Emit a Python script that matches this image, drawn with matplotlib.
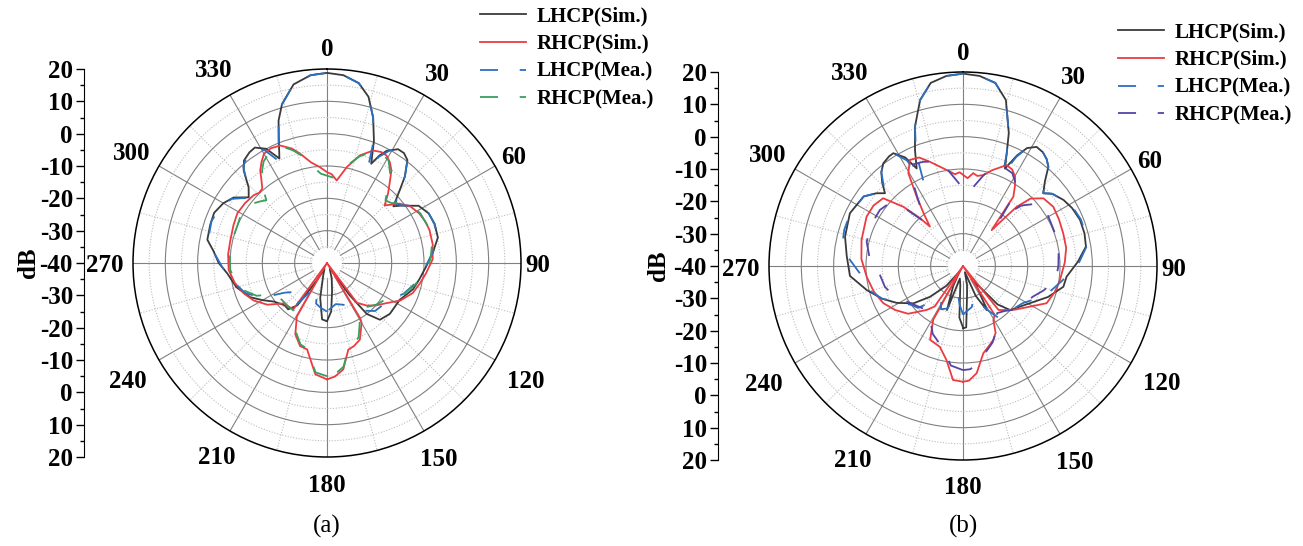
import numpy as np
import matplotlib
matplotlib.use("Agg")
import matplotlib.pyplot as plt
from matplotlib.ticker import FixedLocator

W, H = 1303, 546

# (angle in degrees, gain in dB)
a_lhcp_sim = [(-180, -22), (-175, -22.5), (-169, -29), (-163, -36), (-157, -38), (-150, -34), (-145, -24),
              (-140, -21.3), (-135, -21.5), (-126, -19.7), (-120, -17), (-114, -14), (-105, -11), (-96, -9),
              (-90, -6.5), (-84, -4.7), (-79, -2.3), (-72, -2.0), (-66, -1.8), (-60, -3), (-55, -4.7),
              (-50, -8.4), (-46, -6.3), (-42, -1.5), (-39, 0.8), (-35, 1.8), (-32, 2.1), (-28, 0),
              (-24.5, -4.5), (-21.5, 0.6), (-18.8, 6.5), (-15.8, 11.1), (-10.6, 16.2), (-5, 18.3), (0, 18.8),
              (5, 18.3), (10, 16.5), (14, 13), (17.6, 7.2), (21, 0.5), (24, -6.4), (26, -3), (28, -0.7),
              (32, 1.5), (35, 1.5), (38, 0.4), (42, -4), (45, -8.2), (49.5, -13), (52, -11.2), (58, -6.6),
              (64, -5), (70, -4.6), (77, -4.8), (84, -7), (92, -9.3), (100, -11), (107, -12.2), (117, -14.8),
              (129, -15), (137, -16), (142, -20), (145, -28), (148, -37), (155, -38), (163, -35), (170, -31),
              (175, -25), (180, -22)]
a_rhcp_sim = [(-180, -4), (-174, -5.4), (-167, -12.6), (-162, -13), (-156, -15.9), (-150.6, -21), (-147, -40),
              (-144, -22.3), (-138, -22), (-133, -21.7), (-125, -17.5), (-117, -14.5), (-110, -12.6),
              (-102, -10.8), (-94, -9.5), (-85, -9.3), (-77, -9.3), (-68, -8.8), (-61, -8.3), (-54, -8.6),
              (-47.3, -9.1), (-44, -9.8), (-41, -9.5), (-38, -7), (-35.8, -4.7), (-33, -2.8), (-30, -1),
              (-26, -0.5), (-21.7, -0.9), (-17, -3), (-13.8, -5.2), (-9, -8.5), (-4.2, -10.3), (0, -11.9),
              (3, -12.5), (6.7, -14.3), (11.7, -9.7), (17, -5.2), (22.3, -2.4), (26, -1.8), (29, -2),
              (32, -3.3), (34.8, -5.1), (38, -8.5), (41.3, -11.4), (45, -14.8), (48, -13), (50.7, -11),
              (56, -8.8), (61.9, -7.6), (67, -7), (72.2, -6.7), (80, -6.8), (88, -7.3), (95.9, -9.2),
              (102, -10.5), (109.3, -11.9), (117, -14.5), (124, -17.8), (131, -20), (137, -22), (143, -24.6),
              (146, -40), (149, -20), (150, -18.6), (156.8, -14.2), (162, -13), (166.2, -12.4), (171.3, -6.7),
              (176, -4.8), (180, -4)]
a_lhcp_mea = [(-180, -25), (-172, -26), (-165, -27), (-158, -32), (-150, -30), (-143, -22.6), (-136, -24),
              (-130, -26), (-125, -24), (-118, -17), (-110, -13), (-100, -10), (-92, -7.5), (-85, -5),
              (-78, -2.5), (-70, -2), (-62, -2.8), (-56, -4.5), (-51, -8), (-46, -6), (-41, -0.5), (-37, 1.2),
              (-33, 2), (-29, 0), (-25, -5.5), (-22, 0), (-18.8, 6.5), (-15.8, 11), (-10.6, 16.2), (-5, 18.3),
              (0, 18.8), (5, 18.3), (10, 16.5), (14, 13), (17.6, 7.2), (21, 0), (23.5, -8.5), (26, -3.5),
              (29, -0.3), (32, 1.5), (35, 1.5), (38, 0.4), (42, -4), (45, -8.2), (49, -12), (52, -11),
              (58, -6.6), (64, -5), (70, -4.6), (77, -4.8), (84, -7), (92, -9.5), (103, -12), (112, -14.5),
              (120, -17.5), (128, -18.5), (135, -19), (141, -21), (146, -23.4), (152, -25), (160, -26.3),
              (168, -27), (175, -26), (180, -25)]
a_rhcp_mea = [(-180, -5), (-174, -6), (-167, -12.8), (-162, -13.5), (-156, -16.5), (-150, -20.5), (-145, -22),
              (-138, -22), (-130, -22), (-121, -21.5), (-115, -16), (-108, -12.8), (-100, -11), (-94, -10),
              (-85, -9.8), (-77, -9.8), (-68, -10), (-61, -9.5), (-54, -9.5), (-47, -12), (-44, -13), (-41, -10),
              (-38, -7.5), (-35, -5), (-32, -3), (-29, -2), (-25, -1.5), (-21, -1.5), (-17, -3.5), (-13, -6),
              (-8, -10), (-4, -12.3), (0, -13), (4, -13.5), (8, -12), (12, -9), (17, -5.5), (22, -3),
              (27, -2.3), (31, -3), (35, -6), (39, -10), (43, -13.5), (47, -12.8), (51, -10.5), (56, -8.5),
              (62, -7.3), (70, -6.8), (80, -7), (88, -8), (96, -9.8), (104, -12), (115, -15), (122.5, -18.8),
              (130, -20), (137, -21.5), (143, -23), (148, -21), (152, -18.5), (157, -15), (162, -13.5),
              (166, -12.6), (171, -7.5), (176, -5.5), (180, -5)]

b_lhcp_sim = [(-180, -21), (-176, -24), (-172, -34), (-166, -36), (-160, -25.5), (-154, -33), (-148, -38),
              (-140, -32), (-133, -26), (-127, -20.8), (-119, -16.5), (-112, -13), (-104, -9.3), (-95, -4.9),
              (-85, -3.9), (-76, -2.4), (-65, -1.4), (-55, -2.5), (-50, -5), (-47, -7), (-44, -4), (-41, -1.5),
              (-37.8, 0.2), (-34, 0.9), (-31.7, 1), (-28, -2), (-25.4, -6.6), (-22.5, -1.2), (-19, 5.6),
              (-14.5, 13), (-10, 17.5), (-5, 19), (0, 19.5), (5, 19), (10, 17.5), (14.5, 13), (19, 3.5),
              (21.2, -2.6), (23.3, -7.2), (26, -2), (28.5, 1.5), (31.7, 3.3), (35, 3), (38, 2), (40.7, 0.5),
              (44, -3.5), (47.8, -6.5), (51, -4.5), (56.7, -2.8), (62, -1.8), (68.5, -1.1), (75, -1.1),
              (81, -1.5), (88, -4.5), (95.9, -7.8), (101.7, -8.3), (110, -12), (119, -16.3), (126, -18.5),
              (133, -20), (138, -24), (144, -34), (148, -30), (151.7, -24.5), (157, -30), (163, -38),
              (168, -34), (172, -31), (177, -21), (180, -20.7)]
b_rhcp_sim = [(-180, -4.2), (-175, -4.6), (-170, -10.5), (-164, -14), (-156, -15), (-151, -21), (-148, -40),
              (-145, -24.7), (-140.5, -22.4), (-131, -17.5), (-123, -15), (-115, -12.8), (-106, -11.3),
              (-96.3, -10), (-86, -8.5), (-75.6, -7.6), (-62.9, -6.5), (-56, -6.6), (-49.7, -7.6),
              (-45.2, -14), (-42, -20), (-40, -24.1), (-37, -20), (-33.7, -14.2), (-30.5, -6.7), (-26.6, -3.3),
              (-22, -3.8), (-17.6, -6.2), (-13, -8.5), (-9.6, -9.9), (-5, -11.5), (-2, -11), (0, -11.8),
              (3, -12.8), (6.3, -11.1), (9, -11.8), (12.6, -11.2), (17, -9), (23.4, -6), (27, -6.5),
              (30.2, -8), (33, -10.5), (36, -13.5), (38.6, -25.8), (41, -20), (42.2, -15.3), (45, -10.5),
              (49.9, -7.5), (56.7, -6.6), (64, -7), (72, -7.4), (80, -7.6), (88, -8.5), (98.2, -9.7),
              (106, -10.5), (114, -11.7), (121.3, -15.8), (130, -19), (137.5, -21.5), (141, -22.5), (144, -40),
              (147, -22), (150.7, -20.8), (154, -17), (157.7, -15.3), (162, -14), (166.9, -12.3),
              (172.7, -6.6), (177, -4.5), (180, -4.2)]
b_lhcp_mea = [(-180, -25), (-175, -28), (-168, -32), (-160, -26), (-153, -25), (-146, -28), (-140, -26),
              (-133, -21), (-127, -20), (-119, -17), (-112, -13), (-104, -9.8), (-94, -8), (-85, -4), (-78, -2),
              (-73, -1.6), (-65, -1.5), (-55, -2.5), (-50, -5), (-47, -7.5), (-44, -4.5), (-41, -1.5),
              (-37.8, 0), (-34, 0.8), (-31.7, 1), (-28, -3), (-25, -11), (-22.5, -2), (-19, 5.6), (-14.5, 13),
              (-10, 17.5), (-5, 19), (0, 19.5), (5, 19), (10, 17.5), (14.5, 13), (19, 3.5), (21.2, -2.6),
              (23.5, -9), (26, -2.5), (28.5, 1.5), (31.7, 3.3), (35, 3), (38, 2), (40.7, 0.5), (44, -3.5),
              (47.8, -6.5), (51, -4.5), (56.7, -2.8), (62, -1.5), (68.5, -0.8), (75, -0.8), (81, -1.3),
              (88, -4), (98, -8.8), (110, -13), (121.7, -18.2), (130, -19.5), (137, -20), (145, -20),
              (152, -25), (160, -30), (168, -27), (175, -26), (180, -25)]
b_rhcp_mea = [(-180, -7.8), (-173, -9), (-167, -13.5), (-163, -15), (-156, -17), (-150, -20), (-144, -22.5),
              (-137, -22), (-130, -21), (-123, -19.6), (-115, -17), (-105, -15), (-95, -14), (-85, -11),
              (-76, -9.3), (-66, -8.8), (-56, -9), (-50, -10), (-45, -15), (-41, -22), (-38, -20), (-34, -15),
              (-30, -8), (-26, -5), (-21, -5.5), (-15, -6.5), (-10, -9), (-5, -13), (0, -16), (4, -17.5),
              (8, -15), (13, -11), (18, -8), (23, -7), (28, -7.5), (32, -9.5), (36, -14), (38.6, -22),
              (41, -18), (44, -14), (50, -10), (55, -9), (60, -9.5), (70, -9.8), (80.5, -10), (90, -10.5),
              (98.6, -11), (107, -14), (114, -16.5), (121.5, -17.5), (130, -19), (137, -21), (144, -22),
              (150, -20), (155, -16.5), (159, -14.6), (165, -12.5), (171, -9.5), (176, -8), (180, -7.8)]

labels = ["LHCP(Sim.)", "RHCP(Sim.)", "LHCP(Mea.)", "RHCP(Mea.)"]
angle_ticks = list(range(0, 360, 30))
db_ticks = list(range(-60, 61, 10))

# gap (px) between the rim and the centre of each angle label
label_gap = {0: 22, 30: 27, 60: 22, 90: 17, 120: 36, 150: 29, 180: 25,
             210: 27, 240: 36, 270: 28, 300: 32, 330: 32}

plt.rcParams["font.family"] = ["Liberation Serif", "DejaVu Serif"]
plt.rcParams["font.weight"] = "bold"

fig = plt.figure(figsize=(W / 100, H / 100), dpi=100)
dash = (0, (10, 12))
px = 0.72  # points per pixel at dpi 100


def panel(cx, cy, R, curves, colors, axis_x, dblabel_x, legend_xy, caption):
    ax = fig.add_axes([(cx - R) / W, (H - cy - R) / H, 2 * R / W, 2 * R / H], projection="polar")
    ax.set_theta_zero_location("N")
    ax.set_theta_direction(-1)
    ax.set_rlim(-40, 20)
    ax.set_axisbelow(True)
    ax.set_xticks(np.deg2rad(angle_ticks))
    ax.set_xticklabels([])
    ax.xaxis.set_minor_locator(FixedLocator(np.deg2rad(np.arange(15, 360, 30))))
    ax.set_yticks(range(-30, 20, 10))
    ax.set_yticklabels([])
    ax.yaxis.set_minor_locator(FixedLocator(range(-35, 20, 10)))
    ax.grid(which="major", color="#808080", lw=0.8, ls="-")
    ax.grid(which="minor", color="#bdbdbd", lw=0.8, ls=(0, (1, 1.5)))
    ax.tick_params(axis="x", which="both", direction="in", length=5, width=1, color="black")
    ax.tick_params(axis="y", which="both", length=0)
    ax.spines["polar"].set_linewidth(1.1)

    for a in angle_ticks:
        t = np.deg2rad(a)
        g = label_gap[a]
        ax.annotate(str(a), xy=(t, 20), xytext=(g * np.sin(t) * px, (g * np.cos(t) - 3) * px),
                    textcoords="offset points", ha="center", va="center", fontsize=18,
                    annotation_clip=False)

    th = np.linspace(0, 2 * np.pi, 200)
    ax.fill(th, np.full_like(th, -35.4), color="white", lw=0, zorder=1)

    styles = ["-", "-", dash, dash]
    for data, color, ls, lab in zip(curves, colors, styles, labels):
        ang, db = np.array(data).T
        ax.plot(np.deg2rad(ang), db, color=color, lw=1.3, ls=ls, label=lab, zorder=3)

    ax.legend(loc="upper left", bbox_to_anchor=legend_xy, bbox_transform=fig.transFigure,
              frameon=False, fontsize=15, handlelength=2.2, handletextpad=0.5,
              labelspacing=0.38, borderpad=0, borderaxespad=0)

    ay = fig.add_axes([axis_x / W, (H - cy - R) / H, 0.0005, 2 * R / H])
    ay.set_ylim(-60, 60)
    ay.set_xticks([])
    for s in ["right", "top", "bottom"]:
        ay.spines[s].set_visible(False)
    ay.patch.set_visible(False)
    ay.set_yticks(db_ticks)
    ay.set_yticklabels([str(abs(v) - 40) for v in db_ticks])
    ay.yaxis.set_minor_locator(FixedLocator(range(-55, 60, 10)))
    ay.tick_params(which="major", length=6, width=1, labelsize=18, pad=2)
    ay.tick_params(which="minor", length=3, width=1)

    fig.text(dblabel_x / W, 1 - cy / H, "dB", rotation=90, ha="center", va="center", fontsize=18)
    fig.text(cx / W, 1 - 526 / H, caption, ha="center", va="center", fontsize=18, fontweight="normal")


panel(327, 263, 194, [a_lhcp_sim, a_rhcp_sim, a_lhcp_mea, a_rhcp_mea],
      ["#3a3a3a", "#ec3b41", "#2b6fc0", "#37a060"], 84, 29, (480 / W, 1 - 6 / H), "(a)")
panel(963, 266, 194, [b_lhcp_sim, b_rhcp_sim, b_lhcp_mea, b_rhcp_mea],
      ["#3a3a3a", "#ec3b41", "#2b6fc0", "#5444a6"], 718, 659, (1118 / W, 1 - 22 / H), "(b)")

fig.savefig("out.png", dpi=100, facecolor="white")
